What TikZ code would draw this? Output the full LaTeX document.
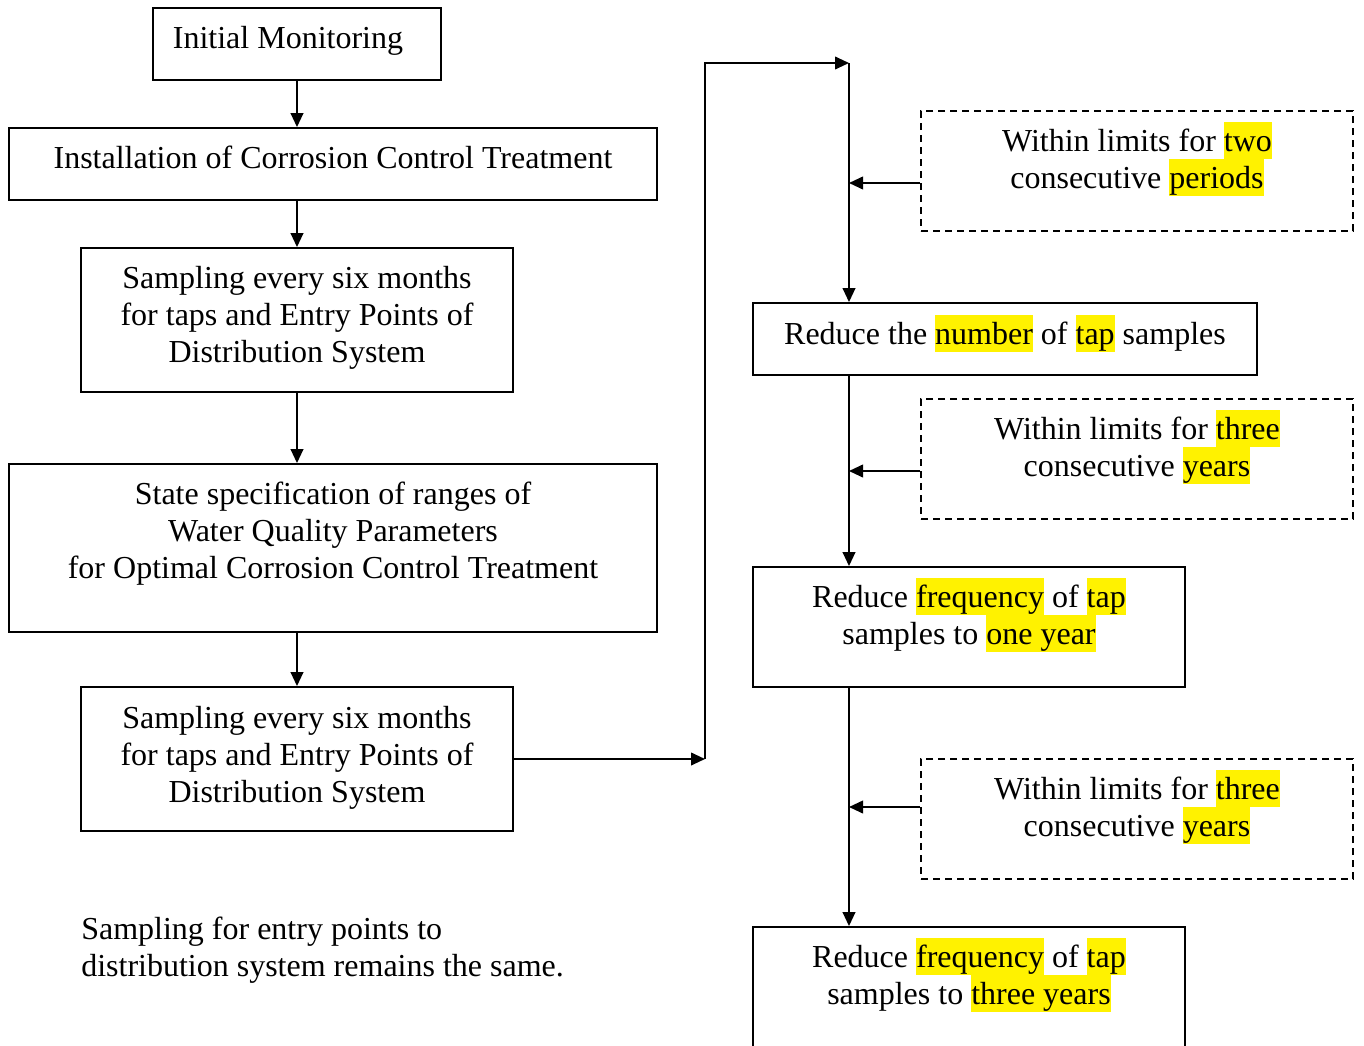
\documentclass[tikz,border=0pt]{standalone}
\usepackage{fontspec}
\setmainfont{Liberation Serif}
\usetikzlibrary{arrows.meta,fit}
\newcommand\mystrut{\rule[-0.24em]{0pt}{1.14em}}
\newcommand\hlw[1]{{\setlength{\fboxsep}{0pt}\colorbox{yellow}{\mystrut#1}}}
\begin{document}
\begin{tikzpicture}[x=0.75pt,y=-0.75pt,
  box/.style={draw, line width=1.4pt, inner sep=0pt},
  dbox/.style={draw, line width=1.2pt, inner sep=0pt, dash pattern=on 5.5pt off 3.5pt},
  txt/.style={inner sep=0pt, anchor=north, align=center, font=\fontsize{24pt}{27.75pt}\selectfont},
  arr/.style={line width=1.4pt, -{Triangle[length=10.5pt,width=9.5pt]}},
  ln/.style={line width=1.4pt}]
\useasboundingbox (0,0) rectangle (1364,1046);
\clip (0,0) rectangle (1364,1046);
% left column boxes
\node[box, fit={(153,8) (441,80)}] (init) {};
\node[box, fit={(9,128) (657,200)}] (inst) {};
\node[box, fit={(81,248) (513,392)}] (samp1) {};
\node[box, fit={(9,464) (657,632)}] (state) {};
\node[box, fit={(81,687) (513,831)}] (samp2) {};
% right column boxes
\node[dbox, fit={(921,111) (1353,231)}] (lim1) {};
\node[box, fit={(753,303) (1257,375)}] (red1) {};
\node[dbox, fit={(921,399) (1353,519)}] (lim2) {};
\node[box, fit={(753,567) (1185,687)}] (freq1) {};
\node[dbox, fit={(921,759) (1353,879)}] (lim3) {};
\node[box, fit={(753,927) (1185,1080)}] (freq3) {};
% texts
\node[txt] (initT) at (288,19) {\mystrut Initial Monitoring};
\node[txt] (instT) at (333,139) {\mystrut Installation of Corrosion Control Treatment};
\node[txt] (samp1T) at (297,259) {\mystrut Sampling every six months\\ \mystrut for taps and Entry Points of\\ \mystrut Distribution System};
\node[txt] (stateT) at (333,475) {\mystrut State specification of ranges of\\ \mystrut Water Quality Parameters\\ \mystrut for Optimal Corrosion Control Treatment};
\node[txt] (samp2T) at (297,699) {\mystrut Sampling every six months\\ \mystrut for taps and Entry Points of\\ \mystrut Distribution System};
\node[txt, anchor=north west, align=left] (note) at (81,910) {\mystrut Sampling for entry points to\\ \mystrut distribution system remains the same.};
\node[txt] (lim1T) at (1137,122) {\mystrut Within limits for \hlw{two}\\ \mystrut consecutive \hlw{periods}};
\node[txt] (red1T) at (1005,315) {\mystrut Reduce the \hlw{number} of \hlw{tap} samples};
\node[txt] (lim2T) at (1137,410) {\mystrut Within limits for \hlw{three}\\ \mystrut consecutive \hlw{years}};
\node[txt] (freq1T) at (969,578) {\mystrut Reduce \hlw{frequency} of \hlw{tap}\\ \mystrut samples to \hlw{one year}};
\node[txt] (lim3T) at (1137,770) {\mystrut Within limits for \hlw{three}\\ \mystrut consecutive \hlw{years}};
\node[txt] (freq3T) at (969,938) {\mystrut Reduce \hlw{frequency} of \hlw{tap}\\ \mystrut samples to \hlw{three years}};
% left connectors
\draw[arr] (init.south -| 297,0) -- (inst.north -| 297,0);
\draw[arr] (inst.south -| samp1.north) -- (samp1.north);
\draw[arr] (samp1.south) -- (state.north -| samp1.south);
\draw[arr] (state.south -| samp2.north) -- (samp2.north);
% loop to right column
\coordinate (c1) at (705,759);
\coordinate (c2) at (849,63);
\draw[arr] (samp2.east |- c1) -- (c1);
\draw[arr] (c1) |- (c2);
\draw[arr] (c2) -- (c2 |- red1.north);
\draw[arr] (red1.south -| c2) -- (freq1.north -| c2);
\draw[arr] (freq1.south -| c2) -- (freq3.north -| c2);
% condition arrows
\coordinate (j1) at (849,183);
\coordinate (j2) at (849,471);
\coordinate (j3) at (849,807);
\draw[arr] (lim1.west |- j1) -- (j1);
\draw[arr] (lim2.west |- j2) -- (j2);
\draw[arr] (lim3.west |- j3) -- (j3);
\end{tikzpicture}
\end{document}
